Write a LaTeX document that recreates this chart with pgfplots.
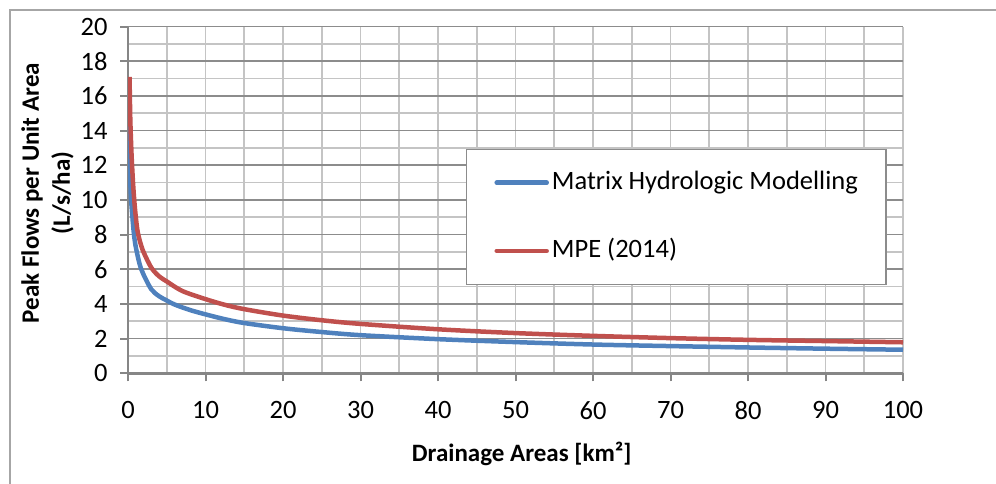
\documentclass[border=0pt]{standalone}
\usepackage{pgfplots}
\pgfplotsset{compat=1.18}
\usepackage{fontspec}
\setmainfont{Carlito}

\definecolor{blueline}{HTML}{4F81BD}
\definecolor{redline}{HTML}{C0504D}
\definecolor{axisgray}{HTML}{868686}
\definecolor{majgray}{HTML}{8C8C8C}
\definecolor{mingray}{HTML}{C4C4C4}
\definecolor{framegray}{HTML}{A6A6A6}

\begin{document}
\begin{tikzpicture}
\useasboundingbox (0,0) rectangle (996pt,483pt);
\draw[framegray, line width=1.3pt] (10pt,-5pt) -- (10pt,473pt) -- (1001pt,473pt);

\begin{axis}[
    at={(128pt,109.7pt)}, anchor=south west,
    scale only axis, width=775pt, height=346.7pt,
    xmin=0, xmax=100, ymin=0, ymax=20,
    xtick={0,10,...,100}, minor xtick={5,15,...,95},
    ytick={0,2,...,20}, minor ytick={1,3,...,19},
    axis x line*=bottom, axis y line*=left,
    axis line style={-, axisgray, line width=2.5pt},
    tick align=outside, major tick length=8pt, minor tick length=0pt,
    tick style={axisgray, line width=2pt},
    grid=both,
    major x grid style={mingray, line width=1.8pt},
    minor x grid style={mingray, line width=1.8pt},
    major y grid style={majgray, line width=1.6pt},
    minor y grid style={mingray, line width=1.6pt},
    font=\fontsize{26.5}{30}\selectfont,
    /pgf/number format/assume math mode=true,
    xticklabel shift=16.5pt, yticklabel shift=9pt,
    xlabel={\bfseries Drainage Areas [km²]},
    ylabel={\bfseries Peak Flows per Unit Area\\\bfseries (L/s/ha)},
    every axis x label/.style={at={(axis description cs:0.508,-0.255)}, anchor=base},
    every axis y label/.style={at={(axis description cs:-0.1039,0.52)}, rotate=90, anchor=center, align=center},
    label style={font=\fontsize{25}{31}\selectfont},
    legend style={at={(axis description cs:0.4726,0.4513)}, anchor=west,
        draw=none, fill=none, inner sep=0pt, column sep=3pt, row sep=43.3pt,
        nodes={inner sep=0pt, text height=19pt, text depth=6pt},
        font=\fontsize{26.5}{30}\selectfont},
    legend cell align=left,
    legend image code/.code={\draw[#1, line cap=round] (0pt,0pt) -- (50pt,0pt);},
]
\draw[majgray, line width=1.3pt, fill=white] (axis description cs:0.437,0.257) rectangle (axis description cs:0.978,0.646);

\addplot[blueline, line width=4.5pt, line join=round, smooth, tension=0.5] coordinates {
(0.1,15.1) (0.2,12.6) (0.35,10.4) (0.5,9.4) (0.75,8.1) (1,7.3) (1.5,6.3)
(2,5.7) (3,4.85) (4,4.45) (5,4.2) (6,3.97) (8,3.65) (10,3.4) (12.5,3.12)
(15,2.9) (20,2.6) (25,2.38) (30,2.2) (40,1.97) (50,1.8) (60,1.66)
(70,1.57) (80,1.49) (90,1.42) (100,1.36)
};
\addlegendentry{Matrix Hydrologic Modelling}

\addplot[redline, line width=4.5pt, line join=round, smooth, tension=0.5] coordinates {
(0.2,17.1) (0.3,14.6) (0.47,12.5) (0.69,10.7) (0.9,9.5) (1.2,8.3) (1.55,7.6)
(2,7.0) (3,6.1) (4,5.6) (5,5.3) (7,4.75) (10,4.28) (12.5,3.95) (15,3.7)
(20,3.33) (25,3.06) (30,2.85) (40,2.54) (50,2.32) (60,2.16) (70,2.03)
(80,1.93) (90,1.86) (100,1.79)
};
\addlegendentry{MPE (2014)}
\end{axis}
\end{tikzpicture}
\end{document}
